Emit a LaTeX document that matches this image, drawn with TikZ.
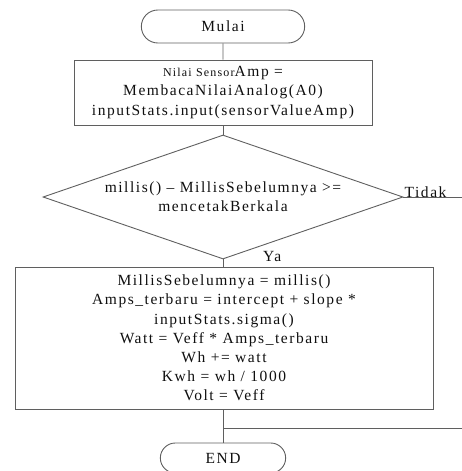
\documentclass[tikz,border=0pt]{standalone}
\usepackage{fontspec}
\setmainfont{Liberation Serif}[LetterSpace=10]
\definecolor{flowline}{RGB}{95,95,95}
\definecolor{flowtext}{RGB}{15,15,15}
\usetikzlibrary{positioning,shapes.geometric,shapes.misc}

\begin{document}
\begin{tikzpicture}[x=1pt, y=-1pt,
    term/.style={rounded rectangle, draw=flowline, line width=0.9pt, minimum width=170pt,
                 minimum height=33pt, text=flowtext, font=\fontsize{15.5}{19}\selectfont},
    proc/.style={rectangle, draw=flowline, line width=0.9pt, align=center, inner sep=0pt,
                 text=flowtext, font=\fontsize{15.5}{19.2}\selectfont},
    decide/.style={diamond, draw=flowline, line width=0.9pt, align=center, inner sep=0pt,
                   aspect=2.9, minimum width=360pt, minimum height=124pt, text=flowtext,
                   font=\fontsize{15.5}{19}\selectfont},
    lbl/.style={text=flowtext, font=\fontsize{15.5}{16}\selectfont, inner sep=0pt},
    flow/.style={draw=flowline, line width=0.9pt}
  ]
    \useasboundingbox (0,0) rectangle (462,471);

    % Start
    \node[term] (mulai) at (223,26.5) {Mulai};

    % Read sensor
    \node[proc, minimum width=298pt, minimum height=65pt] (baca) at (223,92.5)
      {{\fontsize{12}{19}\selectfont Nilai Sensor}Amp =\\
       MembacaNilaiAnalog(A0)\\
       inputStats.input(sensorValueAmp)};

    % Decision
    \node[decide] (cek) at (223,197)
      {millis() -- MillisSebelumnya >=\\mencetakBerkala};

    % Compute
    \node[proc, minimum width=418pt, minimum height=142pt] (hitung) at (224,338)
      {MillisSebelumnya = millis()\\
       Amps\_terbaru = intercept + slope *\\
       inputStats.sigma()\\
       Watt = Veff * Amps\_terbaru\\
       Wh += watt\\
       Kwh = wh / 1000\\
       Volt = Veff};

    % End
    \node[term, minimum width=132pt, minimum height=30pt] (selesai) at (223,458) {END};

    % Labels
    \node[lbl, anchor=base west] (ya) at ([xshift=40pt, yshift=-2pt]cek.south) {Ya};
    \node[lbl, anchor=base west] (tidak) at ([xshift=1pt]cek.east) {Tidak};

    % Connectors
    \coordinate (gabung) at (223,428);
    \coordinate (tidakujung) at (462,197);
    \coordinate (gabungujung) at (462,428);
    \draw[flow] (mulai) -- (baca);
    \draw[flow] (baca) -- (cek);
    \draw[flow] (cek.south) -- (cek.south |- hitung.north);
    \draw[flow] (cek.east) -- (tidakujung);
    \draw[flow] (hitung.south -| selesai) -- (selesai.north);
    \draw[flow] (gabung) -- (gabungujung);
  \end{tikzpicture}
\end{document}
